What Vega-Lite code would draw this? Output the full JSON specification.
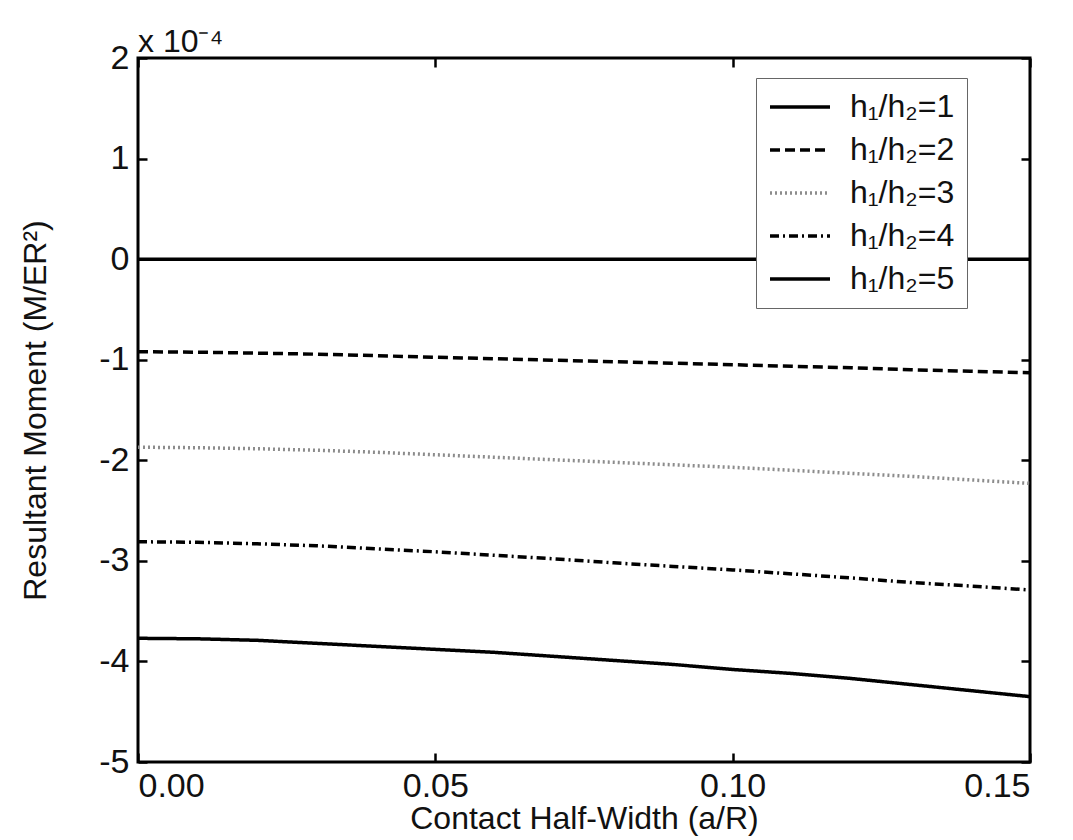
{
  "$schema": "https://vega.github.io/schema/vega-lite/v6.json",
  "autosize": {"type": "none"},
  "width": 892,
  "height": 704,
  "padding": {"left": 138, "top": 58, "right": 43, "bottom": 78},
  "background": "white",
  "title": {
    "text": "x 10⁻⁴",
    "anchor": "start",
    "frame": "group",
    "font": "Liberation Sans",
    "fontSize": 32,
    "fontWeight": "normal",
    "color": "#111",
    "offset": -18
  },
  "data": {
    "values": [
      {"a": 0.00, "moment": 0, "series": "h₁/h₂=1"},
      {"a": 0.01, "moment": 0, "series": "h₁/h₂=1"},
      {"a": 0.02, "moment": 0, "series": "h₁/h₂=1"},
      {"a": 0.03, "moment": 0, "series": "h₁/h₂=1"},
      {"a": 0.04, "moment": 0, "series": "h₁/h₂=1"},
      {"a": 0.05, "moment": 0, "series": "h₁/h₂=1"},
      {"a": 0.06, "moment": 0, "series": "h₁/h₂=1"},
      {"a": 0.07, "moment": 0, "series": "h₁/h₂=1"},
      {"a": 0.08, "moment": 0, "series": "h₁/h₂=1"},
      {"a": 0.09, "moment": 0, "series": "h₁/h₂=1"},
      {"a": 0.10, "moment": 0, "series": "h₁/h₂=1"},
      {"a": 0.11, "moment": 0, "series": "h₁/h₂=1"},
      {"a": 0.12, "moment": 0, "series": "h₁/h₂=1"},
      {"a": 0.13, "moment": 0, "series": "h₁/h₂=1"},
      {"a": 0.14, "moment": 0, "series": "h₁/h₂=1"},
      {"a": 0.15, "moment": 0, "series": "h₁/h₂=1"},
      {"a": 0.00, "moment": -0.92, "series": "h₁/h₂=2"},
      {"a": 0.01, "moment": -0.925, "series": "h₁/h₂=2"},
      {"a": 0.02, "moment": -0.935, "series": "h₁/h₂=2"},
      {"a": 0.03, "moment": -0.945, "series": "h₁/h₂=2"},
      {"a": 0.04, "moment": -0.96, "series": "h₁/h₂=2"},
      {"a": 0.05, "moment": -0.975, "series": "h₁/h₂=2"},
      {"a": 0.06, "moment": -0.99, "series": "h₁/h₂=2"},
      {"a": 0.07, "moment": -1.005, "series": "h₁/h₂=2"},
      {"a": 0.08, "moment": -1.02, "series": "h₁/h₂=2"},
      {"a": 0.09, "moment": -1.035, "series": "h₁/h₂=2"},
      {"a": 0.10, "moment": -1.05, "series": "h₁/h₂=2"},
      {"a": 0.11, "moment": -1.065, "series": "h₁/h₂=2"},
      {"a": 0.12, "moment": -1.08, "series": "h₁/h₂=2"},
      {"a": 0.13, "moment": -1.1, "series": "h₁/h₂=2"},
      {"a": 0.14, "moment": -1.115, "series": "h₁/h₂=2"},
      {"a": 0.15, "moment": -1.13, "series": "h₁/h₂=2"},
      {"a": 0.00, "moment": -1.87, "series": "h₁/h₂=3"},
      {"a": 0.01, "moment": -1.875, "series": "h₁/h₂=3"},
      {"a": 0.02, "moment": -1.885, "series": "h₁/h₂=3"},
      {"a": 0.03, "moment": -1.9, "series": "h₁/h₂=3"},
      {"a": 0.04, "moment": -1.92, "series": "h₁/h₂=3"},
      {"a": 0.05, "moment": -1.945, "series": "h₁/h₂=3"},
      {"a": 0.06, "moment": -1.97, "series": "h₁/h₂=3"},
      {"a": 0.07, "moment": -1.995, "series": "h₁/h₂=3"},
      {"a": 0.08, "moment": -2.02, "series": "h₁/h₂=3"},
      {"a": 0.09, "moment": -2.045, "series": "h₁/h₂=3"},
      {"a": 0.10, "moment": -2.07, "series": "h₁/h₂=3"},
      {"a": 0.11, "moment": -2.1, "series": "h₁/h₂=3"},
      {"a": 0.12, "moment": -2.13, "series": "h₁/h₂=3"},
      {"a": 0.13, "moment": -2.16, "series": "h₁/h₂=3"},
      {"a": 0.14, "moment": -2.195, "series": "h₁/h₂=3"},
      {"a": 0.15, "moment": -2.23, "series": "h₁/h₂=3"},
      {"a": 0.00, "moment": -2.81, "series": "h₁/h₂=4"},
      {"a": 0.01, "moment": -2.815, "series": "h₁/h₂=4"},
      {"a": 0.02, "moment": -2.83, "series": "h₁/h₂=4"},
      {"a": 0.03, "moment": -2.85, "series": "h₁/h₂=4"},
      {"a": 0.04, "moment": -2.88, "series": "h₁/h₂=4"},
      {"a": 0.05, "moment": -2.91, "series": "h₁/h₂=4"},
      {"a": 0.06, "moment": -2.945, "series": "h₁/h₂=4"},
      {"a": 0.07, "moment": -2.98, "series": "h₁/h₂=4"},
      {"a": 0.08, "moment": -3.02, "series": "h₁/h₂=4"},
      {"a": 0.09, "moment": -3.055, "series": "h₁/h₂=4"},
      {"a": 0.10, "moment": -3.09, "series": "h₁/h₂=4"},
      {"a": 0.11, "moment": -3.13, "series": "h₁/h₂=4"},
      {"a": 0.12, "moment": -3.17, "series": "h₁/h₂=4"},
      {"a": 0.13, "moment": -3.215, "series": "h₁/h₂=4"},
      {"a": 0.14, "moment": -3.25, "series": "h₁/h₂=4"},
      {"a": 0.15, "moment": -3.29, "series": "h₁/h₂=4"},
      {"a": 0.00, "moment": -3.77, "series": "h₁/h₂=5"},
      {"a": 0.01, "moment": -3.775, "series": "h₁/h₂=5"},
      {"a": 0.02, "moment": -3.79, "series": "h₁/h₂=5"},
      {"a": 0.03, "moment": -3.82, "series": "h₁/h₂=5"},
      {"a": 0.04, "moment": -3.85, "series": "h₁/h₂=5"},
      {"a": 0.05, "moment": -3.88, "series": "h₁/h₂=5"},
      {"a": 0.06, "moment": -3.91, "series": "h₁/h₂=5"},
      {"a": 0.07, "moment": -3.95, "series": "h₁/h₂=5"},
      {"a": 0.08, "moment": -3.99, "series": "h₁/h₂=5"},
      {"a": 0.09, "moment": -4.03, "series": "h₁/h₂=5"},
      {"a": 0.10, "moment": -4.08, "series": "h₁/h₂=5"},
      {"a": 0.11, "moment": -4.12, "series": "h₁/h₂=5"},
      {"a": 0.12, "moment": -4.17, "series": "h₁/h₂=5"},
      {"a": 0.13, "moment": -4.23, "series": "h₁/h₂=5"},
      {"a": 0.14, "moment": -4.29, "series": "h₁/h₂=5"},
      {"a": 0.15, "moment": -4.35, "series": "h₁/h₂=5"}
    ]
  },
  "layer": [
    {
      "mark": {"type": "line", "strokeWidth": 3.5, "clip": true},
      "encoding": {
        "x": {
          "field": "a",
          "type": "quantitative",
          "scale": {"domain": [0, 0.15], "nice": false, "zero": false},
          "axis": {
            "orient": "bottom",
            "title": "Contact Half-Width (a/R)",
            "values": [0, 0.05, 0.1, 0.15],
            "format": ".2f",
            "labelPadding": 16,
            "titlePadding": 0
          }
        },
        "y": {
          "field": "moment",
          "type": "quantitative",
          "scale": {"domain": [-5, 2], "nice": false, "zero": false},
          "axis": {
            "orient": "left",
            "title": "Resultant Moment (M/ER²)",
            "values": [-5, -4, -3, -2, -1, 0, 1, 2],
            "labelExpr": "'' + datum.value",
            "labelPadding": 18,
            "titlePadding": 46
          }
        },
        "color": {
          "field": "series",
          "type": "nominal",
          "scale": {"range": ["#000000", "#000000", "#8c8c8c", "#000000", "#000000"]},
          "legend": {"title": null}
        },
        "strokeDash": {
          "field": "series",
          "type": "nominal",
          "scale": {"range": [[1, 0], [10, 5], [2, 3], [9, 4, 2, 4], [1, 0]]},
          "legend": {"title": null}
        }
      }
    },
    {
      "mark": {"type": "line", "opacity": 0},
      "encoding": {
        "x": {
          "field": "a",
          "type": "quantitative",
          "axis": {"orient": "top", "title": null, "labels": false, "values": [0, 0.05, 0.1, 0.15]}
        },
        "y": {
          "field": "moment",
          "type": "quantitative",
          "axis": {"orient": "right", "title": null, "labels": false, "values": [-5, -4, -3, -2, -1, 0, 1, 2]}
        },
        "detail": {"field": "series"}
      }
    }
  ],
  "resolve": {"axis": {"x": "independent", "y": "independent"}},
  "config": {
    "font": "Liberation Sans",
    "view": {"stroke": "#000000", "strokeWidth": 3},
    "axis": {
      "domain": false,
      "grid": false,
      "ticks": true,
      "tickSize": -9,
      "tickWidth": 2.5,
      "tickColor": "#000000",
      "labelFont": "Liberation Sans",
      "labelFontSize": 34,
      "labelColor": "#111111",
      "titleFont": "Liberation Sans",
      "titleFontSize": 32,
      "titleFontWeight": "normal",
      "titleColor": "#111111"
    },
    "legend": {
      "orient": "none",
      "legendX": 618,
      "legendY": 20,
      "fillColor": "#ffffff",
      "strokeColor": "#666666",
      "padding": 12,
      "symbolType": "stroke",
      "symbolSize": 3600,
      "symbolStrokeWidth": 3.5,
      "clipHeight": 34,
      "rowPadding": 9,
      "labelFont": "Liberation Sans",
      "labelFontSize": 32,
      "labelColor": "#111111",
      "labelOffset": 18,
      "labelLimit": 400
    }
  }
}
